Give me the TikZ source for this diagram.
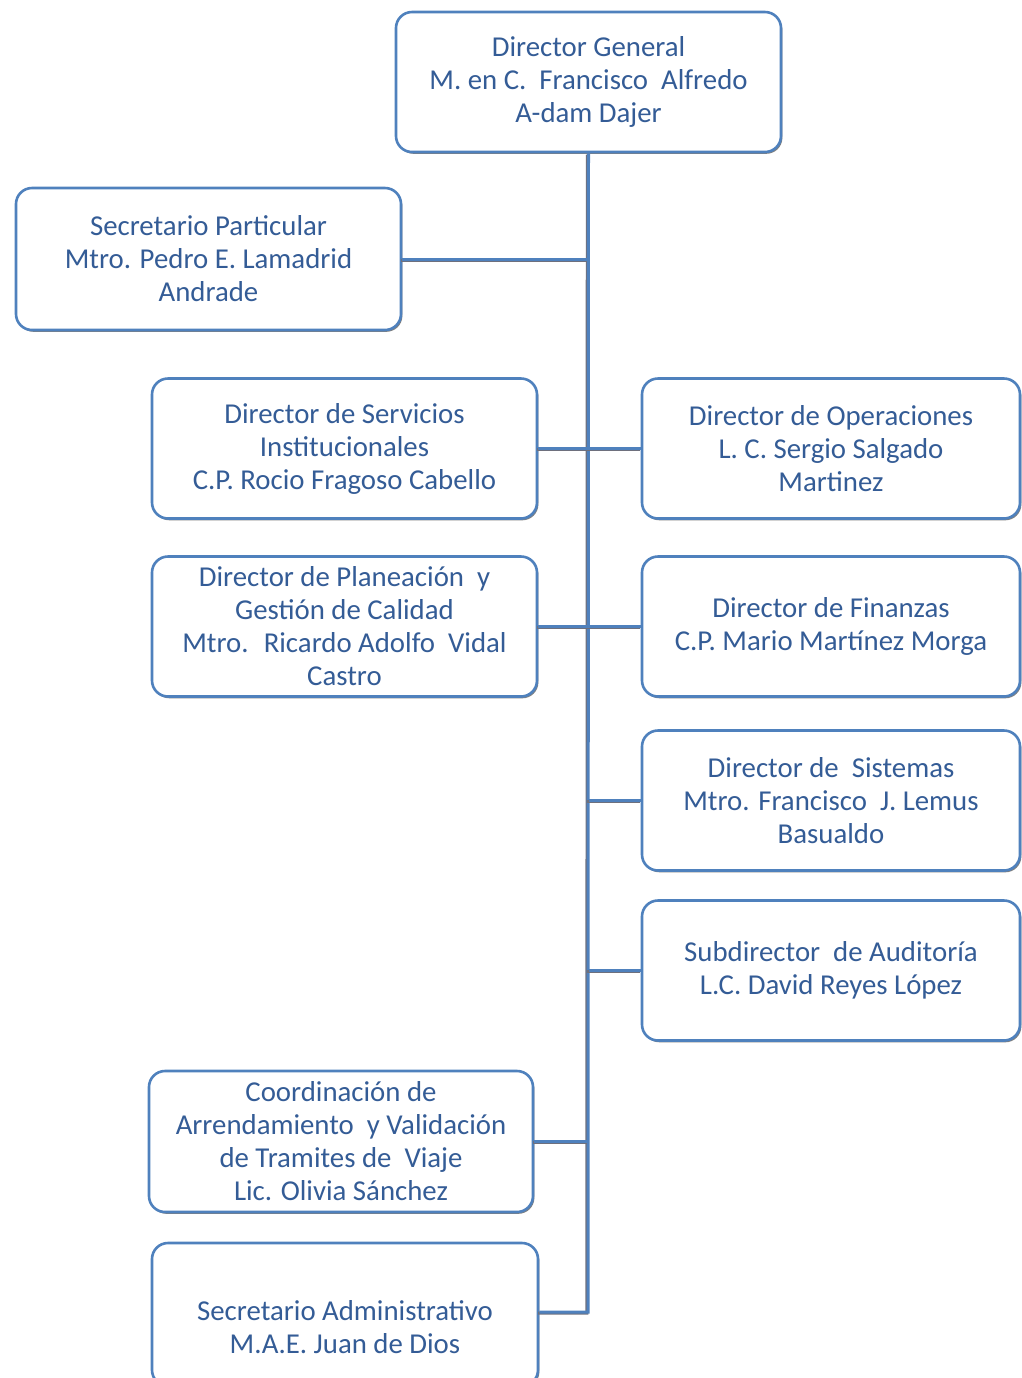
\documentclass[tikz,border=0pt]{standalone}
\usepackage{fontspec}
\setmainfont{Carlito}
\usepackage{xcolor}
\usepackage{tikz}
\usetikzlibrary{positioning}
\usetikzlibrary{shadows}
\definecolor{boxblue}{RGB}{79,129,189}
\definecolor{txtblue}{RGB}{52,92,150}
\definecolor{lineshade}{RGB}{110,112,125}

\begin{document}
\begin{tikzpicture}[x=0.5pt,y=-0.5pt,
puesto/.style={draw=boxblue, line width=1.3pt, rounded corners=8pt, fill=white,
drop shadow={shadow xshift=0.7pt, shadow yshift=-0.9pt, fill=black!50, opacity=1},
align=center, text=txtblue, font=\fontsize{14.4}{16.5}\selectfont,
minimum width=192.5pt, minimum height=70pt, inner sep=0pt},
derecha/.style={puesto, minimum width=189pt},
linea/.style={draw=boxblue, line width=1.5pt,
preaction={draw=lineshade, line width=1.5pt, transform canvas={shift={(-0.6pt,-0.6pt)}}}}]
\useasboundingbox (0,0) rectangle (1022,1378);

%----------direccion
\node[puesto] (dg) at (588.5,82) {Director General\\M. en C.~ Francisco~ Alfredo\\A-dam Dajer};
\node[puesto, minimum height=71pt] (sp) at (208.5,259) {Secretario Particular\\Mtro. Pedro E. Lamadrid\\Andrade};

%----------izquierda
\node[puesto] (dsi) at (344.5,448.5) {Director de Servicios\\Institucionales\\C.P. Rocio Fragoso Cabello};
\node[puesto] (dpg) at (344.5,626.5) {Director de Planeación~ y\\Gestión de Calidad\\Mtro.~ Ricardo Adolfo~ Vidal\\Castro};
\node[puesto, minimum width=192pt, minimum height=70.5pt] (cav) at (341,1141.5) {Coordinación de\\Arrendamiento~ y Validación\\de Tramites de~ Viaje\\Lic. Olivia Sánchez};
\node[puesto, minimum width=193pt, minimum height=71.5pt] (sad) at (345,1314.5) {\mbox{}\\[6.5pt]Secretario Administrativo\\M.A.E. Juan de Dios};

%----------derecha
\node[derecha] (dop) at (831,448.5) {Director de Operaciones\\L. C. Sergio Salgado\\Martinez};
\node[derecha] (dfi) at (831,626.5) {Director de Finanzas\\C.P. Mario Martínez Morga};
\node[derecha] (dsis) at (831,800.5) {Director de~ Sistemas\\Mtro. Francisco~ J. Lemus\\Basualdo};
\node[derecha] (sda) at (831,970.5) {Subdirector~ de Auditoría\\L.C. David Reyes López};

%line:
\coordinate (fin) at (588,1312);
\draw[linea] (dg.south) -- (fin) -- (fin -| sad.east);
\draw[linea] (sp.east) -- (sp.east -| dg.south);
\draw[linea] (dsi.east) -- (dop.west);
\draw[linea] (dpg.east) -- (dfi.west);
\draw[linea] (dsis.west -| dg.south) -- (dsis.west);
\draw[linea] (sda.west -| dg.south) -- (sda.west);
\draw[linea] (cav.east) -- (cav.east -| dg.south);

\end{tikzpicture}
\end{document}
